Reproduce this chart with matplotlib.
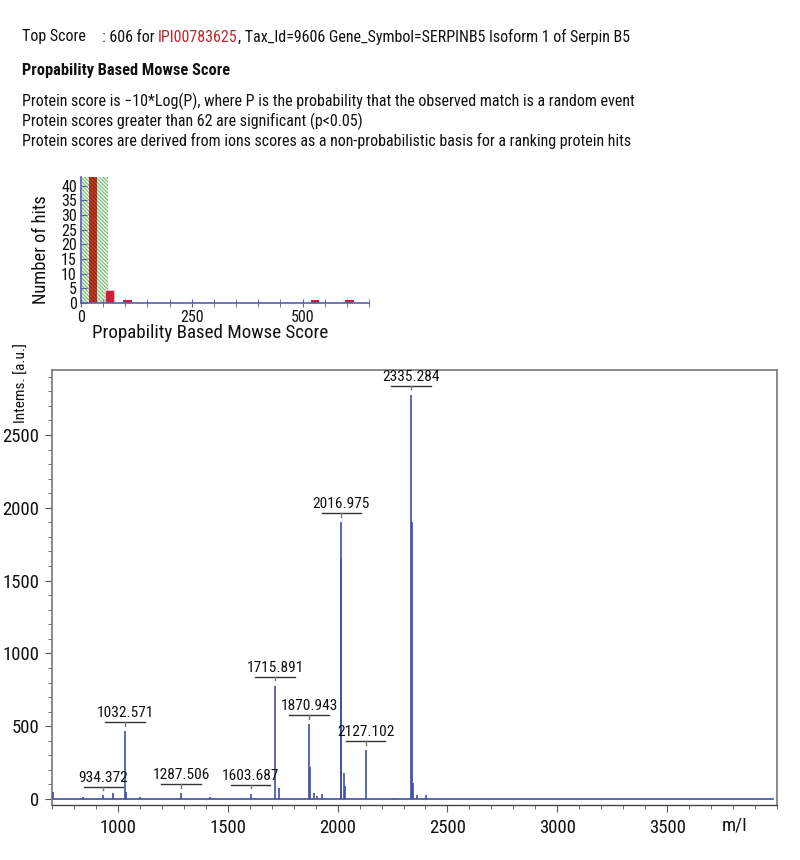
import matplotlib
matplotlib.use("Agg")
import matplotlib.pyplot as plt
from matplotlib import font_manager as fm
from matplotlib.ticker import MultipleLocator

# ---------------- data ----------------
top_score_label = "Top Score"
top_score_text = ": 606 for "
top_hit_id = "IPI00783625"
top_hit_desc = ", Tax_Id=9606 Gene_Symbol=SERPINB5 Isoform 1 of Serpin B5"
section_title = "Propability Based Mowse Score"
info_lines = [
    "Protein score is \u221210*Log(P), where P is the probability that the observed match is a random event",
    "Protein scores greater than 62 are significant (p<0.05)",
    "Protein scores are derived from ions scores as a non-probabilistic basis for a ranking protein hits",
]

significance_threshold = 62
hist_scores = [27, 65, 104, 528, 606]
hist_hits = [50, 4.5, 1, 1, 1]
hist_yticks = [0, 5, 10, 15, 20, 25, 30, 35, 40]
hist_xticks = [0, 250, 500]

# peak list (m/z, intensity)
peak_mz = [705, 840, 934.372, 978, 1032.571, 1035.5, 1100, 1287.506, 1420,
           1603.687, 1715.891, 1731.8, 1870.943, 1875, 1892, 1908, 1931,
           2015.5, 2016.975, 2027, 2034, 2127.102, 2257, 2335.284, 2337,
           2345, 2362, 2403]
peak_int = [45, 12, 25, 38, 466, 50, 15, 40, 12,
            35, 776, 75, 514, 220, 40, 20, 35,
            1650, 1902, 178, 90, 336, 10, 2775, 1902,
            110, 30, 25]

labelled_mz = [934.372, 1032.571, 1287.506, 1603.687, 1715.891, 1870.943,
               2016.975, 2127.102, 2335.284]
labelled_int = [25, 466, 40, 35, 776, 514, 1902, 336, 2775]

spec_yticks = [0, 500, 1000, 1500, 2000, 2500]
spec_xticks = [1000, 1500, 2000, 2500, 3000, 3500]

# ---------------- font choice (narrow if available) ----------------
ttf = fm.fontManager.ttflist
names = {f.name for f in ttf}
family = None
stretch = 'normal'
for cand in ['Liberation Sans Narrow', 'Roboto Condensed', 'Open Sans Condensed',
             'Noto Sans Condensed', 'Arial Narrow', 'DejaVu Sans Condensed']:
    if cand in names:
        family = cand
        break
if family is None:
    cond = [f for f in ttf if f.stretch in ('condensed', 'semi-condensed', 'extra-condensed')
            and f.name in ('DejaVu Sans', 'Noto Sans', 'Open Sans', 'Roboto')]
    if cond:
        family = cond[0].name
        stretch = cond[0].stretch
if family is None:
    family = 'Roboto' if 'Roboto' in names else 'Liberation Sans'
plt.rcParams['font.family'] = [family, 'DejaVu Sans']
plt.rcParams['font.stretch'] = stretch
plt.rcParams['hatch.linewidth'] = 0.9

# ---------------- figure ----------------
W, H = 800, 860
fig = plt.figure(figsize=(W / 100, H / 100), dpi=100)
renderer = fig.canvas.get_renderer()


def fy(px):
    return 1 - px / H


def fit(s, target_px, max_pt, **kw):
    t = fig.text(0, 0, s, fontsize=10, **kw)
    w = t.get_window_extent(renderer).width
    t.remove()
    return min(max_pt, 10 * target_px / w)


FS_HEAD = fit(info_lines[0], 431 * 1.42, 13)
FS_BOLD = fit(section_title, 146 * 1.42, 13.5, fontweight='bold')
FS_PEAK = fit("1287.506", 40 * 1.42, 12.5)
FS_TICK = fit("2500", 30 * 1.35, 13.5)
FS_HTICK = fit("250", 18 * 1.3, 12.5)
FS_HLAB = fit(section_title, 210 * 1.12, 16)
FS_NHITS = fit("Number of hits", 100 * 1.08, 16)
FS_YLAB = fit("Intems. [a.u.]", 77 * 1.03, 13)

red_id = '#c0272d'
ink = '#111111'

t0 = fig.text(22 / W, fy(37), top_score_label, fontsize=FS_HEAD, va='center', color=ink)
x_colon = max(85, t0.get_window_extent(renderer).x1 + 16)
t1 = fig.text(x_colon / W, fy(37), top_score_text, fontsize=FS_HEAD, va='center', color=ink)
bb = t1.get_window_extent(renderer)
t2 = fig.text(bb.x1 / W, fy(37), top_hit_id, fontsize=FS_HEAD, va='center', color=red_id)
bb = t2.get_window_extent(renderer)
fig.text(bb.x1 / W, fy(37), top_hit_desc, fontsize=FS_HEAD, va='center', color=ink)

fig.text(22 / W, fy(70), section_title, fontsize=FS_BOLD, va='center',
         fontweight='bold', color=ink)
for i, line in enumerate(info_lines):
    fig.text(22 / W, fy(101 + 20 * i), line, fontsize=FS_HEAD, va='center', color=ink)

# ---------------- histogram ----------------
axis_blue = '#5a5fae'
ax1 = fig.add_axes([81 / W, fy(303), (369 - 81) / W, (303 - 177) / H])
ax1.axvspan(0, significance_threshold, facecolor='#f3faf3', edgecolor='#7cc07c',
            hatch='\\' * 9, lw=0, zorder=1)
bar_colors = ['#cc4128'] + ['#c81f3c'] * (len(hist_scores) - 1)
bars = ax1.bar(hist_scores, hist_hits, width=20, color=bar_colors, zorder=2,
               edgecolor='none')
bars[0].set_hatch('\\' * 9)
bars[0].set_edgecolor('#8a2418')
bars[0].set_linewidth(0)
bars[1].set_edgecolor('#f1b5b0')
bars[1].set_linewidth(0.8)
ax1.set_xlim(0, 650)
ax1.set_ylim(0, 43)
ax1.set_yticks(hist_yticks)
ax1.set_xticks(hist_xticks)
ax1.xaxis.set_minor_locator(MultipleLocator(50))
for s in ['top', 'right']:
    ax1.spines[s].set_visible(False)
for s in ['left', 'bottom']:
    ax1.spines[s].set_color(axis_blue)
    ax1.spines[s].set_linewidth(1.2)
ax1.tick_params(axis='y', direction='in', length=4, color=axis_blue, labelsize=FS_HTICK,
                pad=3, labelcolor=ink)
ax1.tick_params(axis='x', which='both', direction='inout', length=6, color=axis_blue,
                labelsize=FS_HTICK, pad=2, labelcolor=ink)
fig.text(41 / W, fy(250), "Number of hits", rotation=90, ha='center', va='center',
         fontsize=FS_NHITS, color=ink)
fig.text(210 / W, fy(333), section_title, ha='center', va='center',
         fontsize=FS_HLAB, color=ink)

# ---------------- spectrum ----------------
spec_blue = '#3d4fa3'
ax2 = fig.add_axes([52 / W, fy(805), (777 - 52) / W, (805 - 370) / H])
xmin, xmax = 700, 4000
ax2.plot([xmin, xmax - 20], [0, 0], color=spec_blue, lw=1.2, zorder=2)
ax2.vlines(peak_mz, 0, peak_int, color=spec_blue, lw=1.2, zorder=3)
ax2.set_xlim(xmin, xmax)
ax2.set_ylim(-41, 2946)

lab_half = 90
for mz, h in zip(labelled_mz, labelled_int):
    ly = h + 60
    ax2.plot([mz - lab_half, mz + lab_half], [ly, ly], color='#333333', lw=1.0, zorder=4)
    ax2.plot([mz, mz], [ly, ly - 22], color='#777777', lw=1.0, zorder=4)
    ax2.annotate(f"{mz:.3f}", (mz, ly), xytext=(0, 1.5), textcoords='offset points',
                 ha='center', va='bottom', fontsize=FS_PEAK, color=ink)

ax2.set_yticks(spec_yticks)
ax2.yaxis.set_minor_locator(MultipleLocator(100))
ax2.set_xticks(spec_xticks)
ax2.xaxis.set_minor_locator(MultipleLocator(100))
for s in ['top', 'right', 'left']:
    ax2.spines[s].set_color('#777777')
    ax2.spines[s].set_linewidth(1.2)
ax2.spines['bottom'].set_color('#444444')
ax2.spines['bottom'].set_linewidth(1.0)
ax2.tick_params(axis='both', which='major', direction='out', length=5, color='#555555',
                labelsize=FS_TICK, labelcolor=ink)
ax2.tick_params(axis='both', which='minor', direction='out', length=3, color='#555555')
ax2.tick_params(axis='x', pad=5)
ax2.tick_params(axis='y', pad=4)

fig.text(22 / W, fy(343), "Intems. [a.u.]", rotation=90, ha='center', va='top',
         fontsize=FS_YLAB, color=ink)
fig.text(735 / W, fy(825), "m/I", ha='center', va='center', fontsize=FS_TICK, color=ink)

fig.savefig("out.png", dpi=100)
